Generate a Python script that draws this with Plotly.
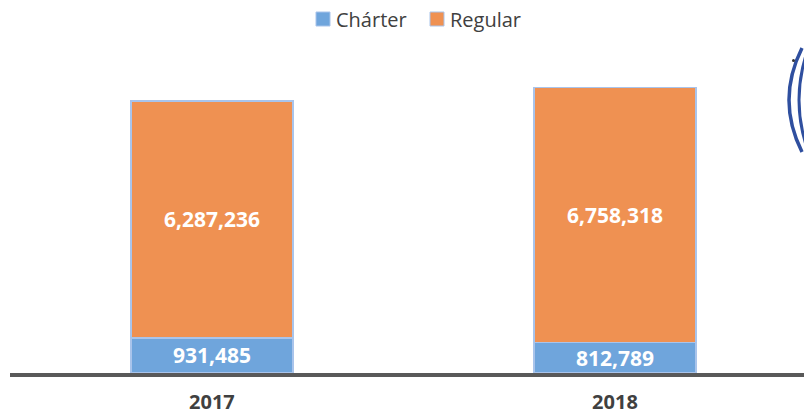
import plotly.graph_objects as go

years = ["2017", "2018"]
series_names = ["Chárter", "Regular"]
charter = [931485, 812789]
regular = [6287236, 6758318]

W, H = 804, 414
L, R, T, B = 10, 0, 50, 41
pw, ph = W - L - R, H - T - B

def px(x):
    return (x - L) / pw

def py(y):
    return (H - B - y) / ph

fmt = lambda v: f"{v:,}"
fnt = "Open Sans"
line = dict(color="#a9c4eb", width=1.5)
colors = ["#6fa5dc", "#ef9152"]

fig = go.Figure()
for name, vals, col in zip(series_names, [charter, regular], colors):
    fig.add_trace(go.Bar(
        name=name, x=years, y=vals, width=0.402,
        marker=dict(color=col, line=line),
        text=[fmt(v) for v in vals], textposition="inside",
        insidetextanchor="middle", constraintext="none",
        textfont=dict(family=fnt, size=21, color="white", weight="bold"),
        showlegend=False, hoverinfo="skip",
    ))

# manual legend (pixel positions)
leg_sq_x = [316, 430]
leg_txt_x = [334, 448]
for name, col, sx, tx in zip(series_names, colors, leg_sq_x, leg_txt_x):
    fig.add_shape(type="rect", xref="paper", yref="paper",
                  x0=px(sx), x1=px(sx + 14), y0=py(26), y1=py(12),
                  fillcolor=col, line=dict(color="#a9c4eb", width=1))
    fig.add_annotation(xref="paper", yref="paper", x=px(tx), y=py(19),
                       xanchor="left", yanchor="middle", showarrow=False,
                       text=name, font=dict(family=fnt, size=20, color="#404040"))

# decorative logo arcs at right edge
logo = "#2f4f9f"
fig.add_shape(type="path", xref="paper", yref="paper",
              path=f"M {px(802)},{py(48)} Q {px(776)},{py(100)} {px(802)},{py(152)}",
              line=dict(color=logo, width=3.5))
fig.add_shape(type="path", xref="paper", yref="paper",
              path=f"M {px(807)},{py(52)} Q {px(791)},{py(100)} {px(807)},{py(148)}",
              line=dict(color=logo, width=3))
fig.add_shape(type="circle", xref="paper", yref="paper",
              x0=px(792), x1=px(795), y0=py(62), y1=py(59),
              fillcolor="#333333", line=dict(width=0))

fig.update_layout(
    width=W, height=H, barmode="stack",
    margin=dict(l=L, r=R, t=T, b=B),
    paper_bgcolor="white", plot_bgcolor="white",
    font=dict(family=fnt, color="#404040"),
    showlegend=False, hovermode=False,
    xaxis=dict(range=[-0.501, 1.469], showgrid=False, showline=True,
               linecolor="#595959", linewidth=3.5, ticks="",
               ticklabelstandoff=8, fixedrange=True,
               tickfont=dict(family=fnt, size=20, color="#404040", weight="bold")),
    yaxis=dict(range=[0, 8.572e6], visible=False, showgrid=False, fixedrange=True),
)
fig.write_html("out.html", config={"displayModeBar": False},
               post_script="document.body.style.margin='0';document.body.style.overflow='hidden';")
